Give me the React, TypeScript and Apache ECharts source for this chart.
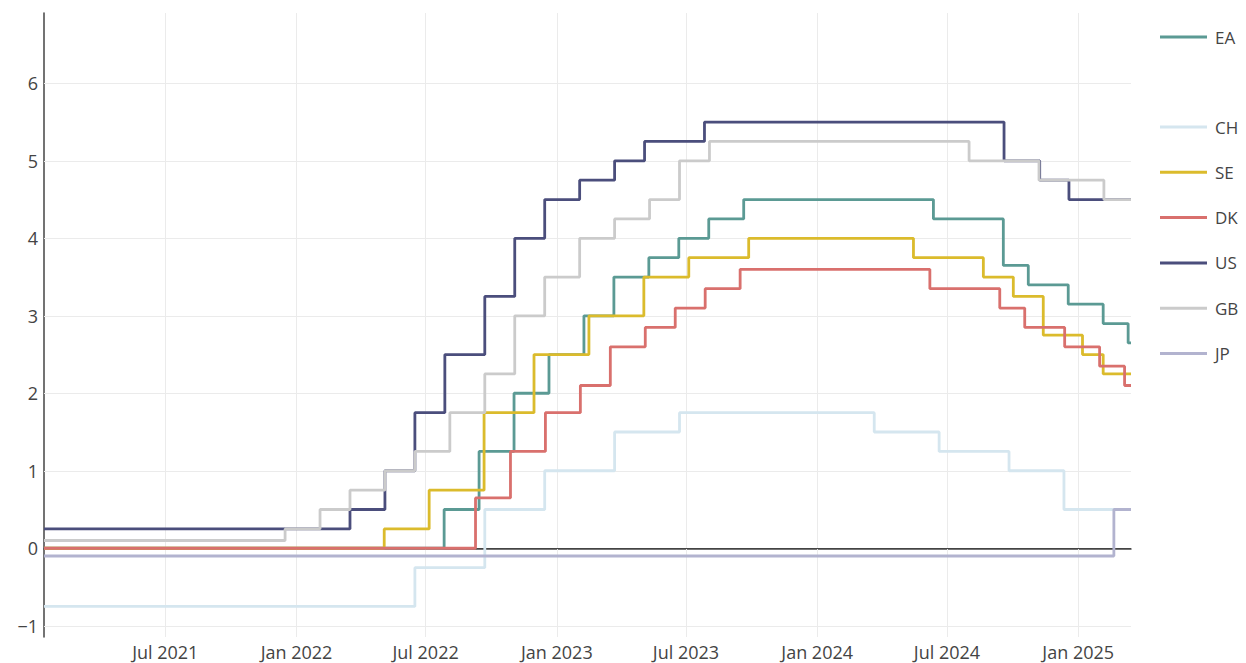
import React, { useEffect, useRef } from 'react';
import * as echarts from 'echarts';

const X_MIN = '2021-01-12';
const X_MAX = '2025-03-16';

const seriesNames = ['EA', 'CH', 'SE', 'DK', 'US', 'GB', 'JP'];
const seriesColors = ['#5b9a94', '#d5e6ef', '#dbbb2c', '#d9706d', '#4b4e7c', '#cbcbcb', '#b2b3cf'];

const eaDates = ['2021-01-12', '2022-07-27', '2022-09-14', '2022-11-02', '2022-12-21', '2023-02-08', '2023-03-22', '2023-05-10', '2023-06-21', '2023-08-02', '2023-09-20', '2024-06-12', '2024-09-18', '2024-10-23', '2024-12-18', '2025-02-05', '2025-03-12', '2025-03-16'];
const eaRates = [0, 0.5, 1.25, 2.0, 2.5, 3.0, 3.5, 3.75, 4.0, 4.25, 4.5, 4.25, 3.65, 3.4, 3.15, 2.9, 2.65, 2.65];

const chDates = ['2021-01-12', '2022-06-16', '2022-09-22', '2022-12-15', '2023-03-23', '2023-06-22', '2024-03-21', '2024-06-20', '2024-09-26', '2024-12-12', '2025-03-16'];
const chRates = [-0.75, -0.25, 0.5, 1.0, 1.5, 1.75, 1.5, 1.25, 1.0, 0.5, 0.5];

const seDates = ['2021-01-12', '2022-05-04', '2022-07-06', '2022-09-21', '2022-11-30', '2023-02-15', '2023-05-03', '2023-07-05', '2023-09-27', '2024-05-15', '2024-08-21', '2024-10-02', '2024-11-13', '2025-01-07', '2025-02-05', '2025-03-16'];
const seRates = [0, 0.25, 0.75, 1.75, 2.5, 3.0, 3.5, 3.75, 4.0, 3.75, 3.5, 3.25, 2.75, 2.5, 2.25, 2.25];

const dkDates = ['2021-01-12', '2022-09-09', '2022-10-28', '2022-12-16', '2023-02-03', '2023-03-17', '2023-05-05', '2023-06-16', '2023-07-28', '2023-09-15', '2024-06-07', '2024-09-13', '2024-10-18', '2024-12-13', '2025-01-31', '2025-03-07', '2025-03-16'];
const dkRates = [0, 0.65, 1.25, 1.75, 2.1, 2.6, 2.85, 3.1, 3.35, 3.6, 3.35, 3.1, 2.85, 2.6, 2.35, 2.1, 2.1];

const usDates = ['2021-01-12', '2022-03-17', '2022-05-05', '2022-06-16', '2022-07-28', '2022-09-22', '2022-11-03', '2022-12-15', '2023-02-02', '2023-03-23', '2023-05-04', '2023-07-27', '2024-09-19', '2024-11-08', '2024-12-19', '2025-03-16'];
const usRates = [0.25, 0.5, 1.0, 1.75, 2.5, 3.25, 4.0, 4.5, 4.75, 5.0, 5.25, 5.5, 5.0, 4.75, 4.5, 4.5];

const gbDates = ['2021-01-12', '2021-12-16', '2022-02-03', '2022-03-17', '2022-05-05', '2022-06-16', '2022-08-04', '2022-09-22', '2022-11-03', '2022-12-15', '2023-02-02', '2023-03-23', '2023-05-11', '2023-06-22', '2023-08-03', '2024-08-01', '2024-11-07', '2025-02-06', '2025-03-16'];
const gbRates = [0.1, 0.25, 0.5, 0.75, 1.0, 1.25, 1.75, 2.25, 3.0, 3.5, 4.0, 4.25, 4.5, 5.0, 5.25, 5.0, 4.75, 4.5, 4.5];

const jpDates = ['2021-01-12', '2025-02-20', '2025-03-16'];
const jpRates = [-0.1, 0.5, 0.5];

const yGridValues = [-1, 0, 1, 2, 3, 4, 5, 6];
const xGridDates = ['2021-07-01', '2022-01-01', '2022-07-01', '2023-01-01', '2023-07-01', '2024-01-01', '2024-07-01', '2025-01-01'];
const Y_MIN = -1.145;
const Y_MAX = 6.907;

const MONTHS = ['Jan', 'Feb', 'Mar', 'Apr', 'May', 'Jun', 'Jul', 'Aug', 'Sep', 'Oct', 'Nov', 'Dec'];
const FONT = '"Open Sans", sans-serif';
const TEXT_COLOR = '#444444';
const GRID_COLOR = '#ebebeb';

const toTime = (s: string) => Date.parse(s + 'T00:00:00Z');
const pairs = (dates: string[], vals: number[]) => dates.map((d, i) => [toTime(d), vals[i]]);

const allDates = [eaDates, chDates, seDates, dkDates, usDates, gbDates, jpDates];
const allRates = [eaRates, chRates, seRates, dkRates, usRates, gbRates, jpRates];

const legendBase = {
  orient: 'vertical',
  left: 1160,
  padding: 0,
  icon: 'rect',
  itemWidth: 47,
  itemHeight: 3,
  itemGap: 28.3,
  textStyle: { color: TEXT_COLOR, fontSize: 17, fontFamily: FONT, padding: [0, 0, 0, 3] },
  selectedMode: false,
};

export default function App() {
  const ref = useRef<HTMLDivElement>(null);
  useEffect(() => {
    if (!ref.current) return;
    const chart = echarts.init(ref.current, undefined, { renderer: 'svg' });
    const dataSeries = seriesNames.map((name, i) => ({
      name,
      type: 'line',
      step: 'end',
      showSymbol: false,
      symbol: 'none',
      z: 3,
      color: seriesColors[i],
      lineStyle: { width: 2.8, color: seriesColors[i] },
      data: pairs(allDates[i], allRates[i]),
      silent: true,
    }));
    const gridSeries = {
      name: '__grid',
      type: 'line',
      data: [],
      silent: true,
      z: 1,
      markLine: {
        silent: true,
        z: 1,
        symbol: 'none',
        label: { show: false },
        animation: false,
        data: [
          ...xGridDates.map((d) => ({ xAxis: toTime(d), lineStyle: { color: GRID_COLOR, width: 1, type: 'solid' } })),
          ...yGridValues.map((v) => ({ yAxis: v, lineStyle: { color: GRID_COLOR, width: 1, type: 'solid' } })),
          { yAxis: 0, lineStyle: { color: '#444444', width: 1, type: 'solid' } },
        ],
      },
    };
    chart.setOption({
      animation: false,
      useUTC: true,
      backgroundColor: '#ffffff',
      textStyle: { fontFamily: FONT },
      grid: { left: 44, right: 115, top: 13, bottom: 26, containLabel: false },
      legend: [
        { ...legendBase, data: ['EA'], top: 28.5 },
        { ...legendBase, data: ['CH', 'SE', 'DK', 'US', 'GB', 'JP'], top: 118.5 },
      ],
      xAxis: {
        type: 'time',
        min: toTime(X_MIN),
        max: toTime(X_MAX),
        splitNumber: 8,
        minInterval: 180 * 86400000,
        maxInterval: 186 * 86400000,
        axisLine: { show: true, lineStyle: { color: '#444444', width: 1.5 } },
        axisTick: { show: false },
        splitLine: { show: false },
        axisLabel: {
          color: TEXT_COLOR,
          fontSize: 18,
          fontFamily: FONT,
          margin: 6,
          showMinLabel: false,
          showMaxLabel: false,
          hideOverlap: false,
          formatter: (v: number) => {
            const d = new Date(v);
            return MONTHS[d.getUTCMonth()] + ' ' + d.getUTCFullYear();
          },
        },
      },
      yAxis: {
        type: 'value',
        min: Y_MIN,
        max: Y_MAX,
        splitNumber: 8,
        axisLine: { show: true, lineStyle: { color: '#444444', width: 1.5 } },
        axisTick: { show: false },
        splitLine: { show: false },
        axisLabel: {
          color: TEXT_COLOR,
          fontSize: 18,
          fontFamily: FONT,
          margin: 6,
          showMinLabel: false,
          showMaxLabel: false,
          formatter: (v: number) => {
            const r = Math.round(v);
            if (Math.abs(v - r) > 1e-6) return '';
            return r < 0 ? '\u2212' + Math.abs(r) : String(r);
          },
        },
      },
      series: [gridSeries, ...dataSeries],
    });
    return () => chart.dispose();
  }, []);
  return <div ref={ref} style={{ position: 'fixed', left: 0, top: 0, width: 1246, height: 663 }} />;
}
